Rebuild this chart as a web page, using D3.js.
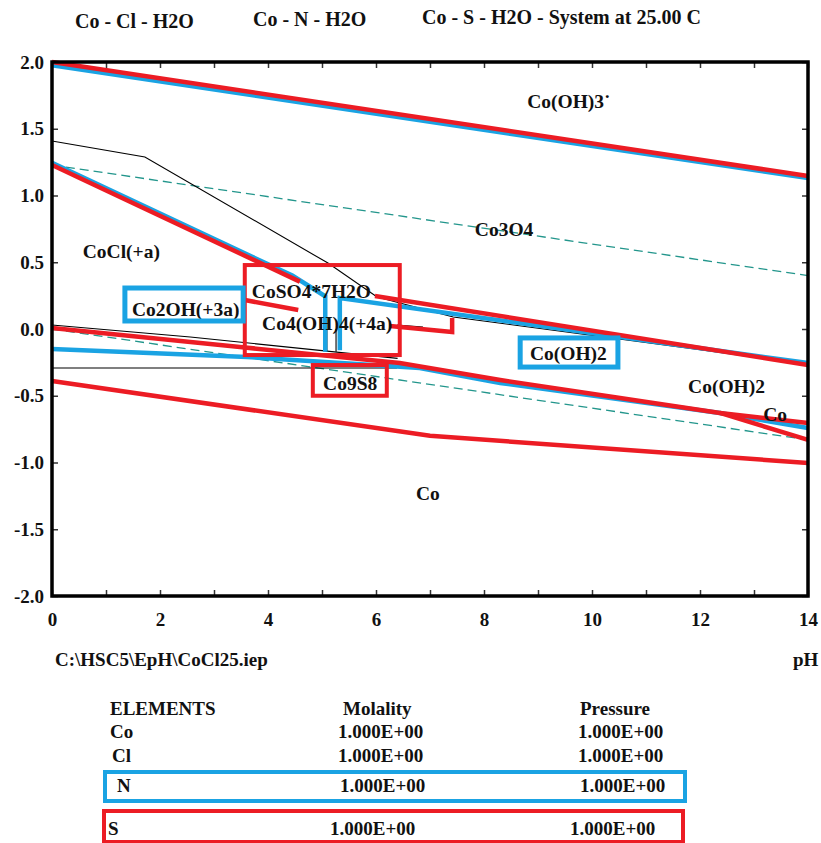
<!DOCTYPE html>
<html>
<head>
<meta charset="utf-8">
<script src="https://cdn.jsdelivr.net/npm/d3@7/dist/d3.min.js"></script>
<style>
  body { margin: 0; background: #fff; }
  svg text { font-family: "Liberation Serif", "Times New Roman", serif; font-weight: bold; fill: #111; }
</style>
</head>
<body>
<svg id="chart" width="821" height="843"></svg>
<script>
// ---------------- DATA ----------------
const titles = ["Co - Cl - H2O", "Co - N - H2O", "Co - S - H2O - System at 25.00 C"];
const phTicks = d3.range(0, 15, 1);
const eTicks = d3.range(-2, 2.01, 0.5);
const xDomain = [0, 14];
const yDomain = [-2, 2];

// water stability lines (teal dashed) [pH, E]
const waterLines = [
  [[0, 1.228], [14, 0.40]],
  [[0, 0.0], [14, -0.83]]
];
// Co-Cl-H2O boundaries (thin black)
const clLines = [
  [[0, 1.408], [1.72, 1.288], [5.11, 0.494], [6.02, 0.24], [7.43, 0.09], [14, -0.262]],
  [[6.39, 0.03], [6.87, 0.015]],
  [[5.09, 0.0], [5.09, -0.17]],
  [[5.26, 0.0], [5.26, -0.17]],
  [[0, -0.292], [6.39, -0.292]],
  [[0, 0.03], [2.56, -0.06], [6.4, -0.22]],
  [[12.37, -0.63], [13.1, -0.72]],
  [[0, -0.385], [7.0, -0.795], [14, -1.0]]
];
// Co-N-H2O boundaries (blue)
const nLines = [
  [[0, 1.975], [14, 1.13]],
  [[0, 1.245], [4.45, 0.40], [5.06, 0.245], [5.06, -0.17]],
  [[5.33, -0.16], [5.33, 0.232], [14, -0.255]],
  [[0, -0.15], [3.61, -0.21], [6.81, -0.292], [8.30, -0.404], [12.37, -0.629], [14, -0.742]]
];
// Co-S-H2O boundaries (red)
const sLines = [
  [[0, 2.0], [14, 1.146]],
  [[0, 1.228], [4.59, 0.355]],
  [[3.57, 0.217], [4.56, 0.142]],
  [[5.98, 0.247], [14, -0.27]],
  [[6.26, 0.022], [7.41, -0.022], [7.41, 0.082]],
  [[0, 0.0075], [3.48, -0.135], [6.44, -0.255], [8.30, -0.382], [10.52, -0.517], [12.37, -0.629], [14, -0.831]],
  [[12.37, -0.629], [14, -0.704]],
  [[0, -0.39], [7.0, -0.80], [14, -1.004]]
];
// region labels [text, pH, E]
const regionLabels = [
  ["Co(OH)3\u02D9", 8.80, 1.655],
  ["Co3O4", 7.83, 0.697],
  ["CoCl(+a)", 0.57, 0.532],
  ["Co2OH(+3a)", 1.48, 0.097],
  ["CoSO4*7H2O", 3.70, 0.232],
  ["Co4(OH)4(+4a)", 3.89, -0.007],
  ["Co9S8", 5.02, -0.457],
  ["Co(OH)2", 8.85, -0.232],
  ["Co(OH)2", 11.78, -0.479],
  ["Co", 13.17, -0.689],
  ["Co", 6.74, -1.282]
];
// highlight boxes [pH0, pH1, E0, E1, system]
const highlightBoxes = [
  [3.57, 6.44, 0.479, -0.195, "S"],
  [4.83, 6.20, -0.27, -0.50, "S"],
  [1.35, 3.54, 0.307, 0.06, "N"],
  [8.67, 10.48, -0.067, -0.285, "N"]
];
const fileName = "C:\\HSC5\\EpH\\CoCl25.iep";
const xAxisName = "pH";
const tableHeader = ["ELEMENTS", "Molality", "Pressure"];
const elements = ["Co", "Cl", "N", "S"];
const molality = ["1.000E+00", "1.000E+00", "1.000E+00", "1.000E+00"];
const pressure = ["1.000E+00", "1.000E+00", "1.000E+00", "1.000E+00"];

// ---------------- LAYOUT / STYLE ----------------
const RED = "#ec1c24", BLUE = "#1aa3e3", TEAL = "#23968c";
const plot = { left: 52, right: 808, top: 62, bottom: 596 };
const svg = d3.select("#chart");
svg.append("rect").attr("width", 821).attr("height", 843).attr("fill", "#fff");

const x = d3.scaleLinear().domain(xDomain).range([plot.left, plot.right]);
const y = d3.scaleLinear().domain(yDomain).range([plot.bottom, plot.top]);
const line = d3.line().x(d => x(d[0])).y(d => y(d[1]));

// titles
const titlePos = [[75, 28], [253, 26], [422, 24]];
svg.selectAll("text.title").data(titles).join("text")
  .attr("class", "title")
  .attr("x", (d, i) => titlePos[i][0]).attr("y", (d, i) => titlePos[i][1])
  .attr("font-size", 20).text(d => d);

// axes
const tickStyle = g => {
  g.select(".domain").remove();
  g.selectAll(".tick line").attr("stroke", "#333").attr("stroke-width", 1.5);
  g.selectAll(".tick text").attr("font-size", 19).attr("fill", "#111")
    .style("font-family", '"Liberation Serif", "Times New Roman", serif').style("font-weight", "bold");
};
svg.append("g").attr("transform", `translate(0,${plot.bottom})`)
  .call(d3.axisBottom(x).tickValues(phTicks).tickSizeInner(-6).tickSizeOuter(0).tickPadding(17)
    .tickFormat(d => d % 2 === 0 ? String(d) : ""))
  .call(tickStyle);
svg.append("g").attr("transform", `translate(0,${plot.top})`)
  .call(d3.axisTop(x).tickValues(phTicks).tickSizeInner(-6).tickSizeOuter(0).tickFormat(""))
  .call(tickStyle);
svg.append("g").attr("transform", `translate(${plot.left},0)`)
  .call(d3.axisLeft(y).tickValues(eTicks).tickSizeInner(-6).tickSizeOuter(0).tickPadding(8)
    .tickFormat(d => d.toFixed(1)))
  .call(tickStyle);
svg.append("g").attr("transform", `translate(${plot.right},0)`)
  .call(d3.axisRight(y).tickValues(eTicks).tickSizeInner(-6).tickSizeOuter(0).tickFormat(""))
  .call(tickStyle);

// lines
const gLines = svg.append("g");
gLines.selectAll("path.water").data(waterLines).join("path")
  .attr("d", line).attr("fill", "none").attr("stroke", TEAL)
  .attr("stroke-width", 1.3).attr("stroke-dasharray", "9,5");
gLines.selectAll("path.cl").data(clLines).join("path")
  .attr("class", "cl").attr("d", line).attr("fill", "none").attr("stroke", "#000").attr("stroke-width", 1.1);
gLines.selectAll("path.n").data(nLines).join("path")
  .attr("class", "n").attr("d", line).attr("fill", "none").attr("stroke", BLUE).attr("stroke-width", 4.5);
gLines.selectAll("path.s").data(sLines).join("path")
  .attr("class", "s").attr("d", line).attr("fill", "none").attr("stroke", RED).attr("stroke-width", 4.5);

// frame
svg.append("rect").attr("x", plot.left).attr("y", plot.top)
  .attr("width", plot.right - plot.left).attr("height", plot.bottom - plot.top)
  .attr("fill", "none").attr("stroke", "#000").attr("stroke-width", 3.5);

// region labels
svg.selectAll("text.region").data(regionLabels).join("text")
  .attr("class", "region")
  .attr("x", d => x(d[1])).attr("y", d => y(d[2]))
  .attr("font-size", 19.5).text(d => d[0]);

// highlight boxes
svg.selectAll("rect.hl").data(highlightBoxes).join("rect")
  .attr("class", "hl")
  .attr("x", d => x(d[0])).attr("y", d => y(d[2]))
  .attr("width", d => x(d[1]) - x(d[0])).attr("height", d => y(d[3]) - y(d[2]))
  .attr("fill", "none").attr("stroke", d => d[4] === "S" ? RED : BLUE)
  .attr("stroke-width", d => d[4] === "S" ? 4 : 5);

// footer texts
svg.append("text").attr("x", 55).attr("y", 666).attr("font-size", 19).text(fileName);
svg.append("text").attr("x", 793).attr("y", 666).attr("font-size", 19).text(xAxisName);

// table
const colX = [110, 343, 580];
svg.selectAll("text.th").data(tableHeader).join("text")
  .attr("class", "th").attr("x", (d, i) => colX[i]).attr("y", 715)
  .attr("font-size", 19).text(d => d);
const rowLayout = [
  { y: 738, ex: 110, mx: 338, px: 578 },
  { y: 762, ex: 112, mx: 338, px: 578 },
  { y: 792, ex: 117, mx: 340, px: 580 },
  { y: 835, ex: 108, mx: 330, px: 570 }
];
elements.forEach((el, i) => {
  const r = rowLayout[i];
  svg.append("text").attr("x", r.ex).attr("y", r.y).attr("font-size", 19).text(el);
  svg.append("text").attr("x", r.mx).attr("y", r.y).attr("font-size", 19).text(molality[i]);
  svg.append("text").attr("x", r.px).attr("y", r.y).attr("font-size", 19).text(pressure[i]);
});
svg.append("rect").attr("x", 105).attr("y", 772).attr("width", 580).attr("height", 29)
  .attr("fill", "none").attr("stroke", BLUE).attr("stroke-width", 4);
svg.append("rect").attr("x", 104).attr("y", 811).attr("width", 579).attr("height", 31)
  .attr("fill", "none").attr("stroke", RED).attr("stroke-width", 4);
</script>
</body>
</html>
